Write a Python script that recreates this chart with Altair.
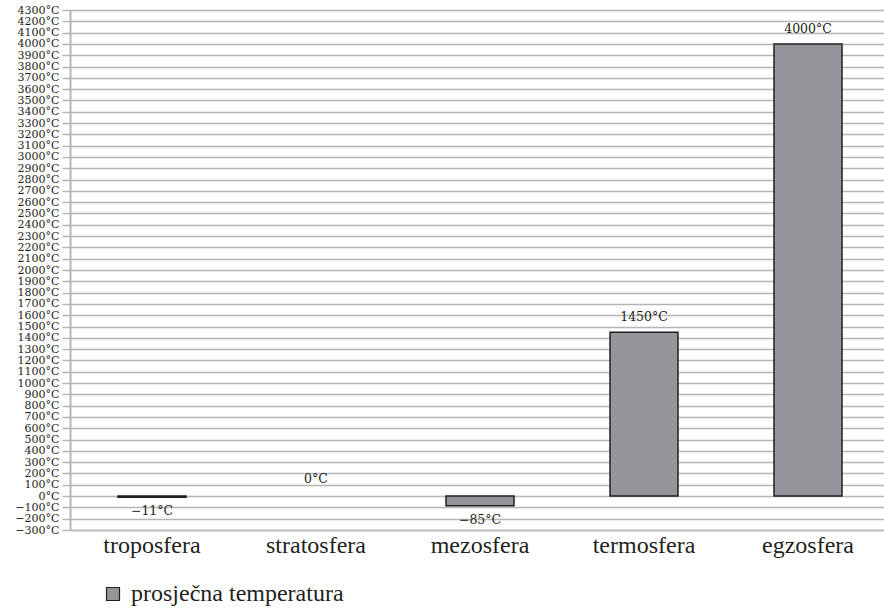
import altair as alt
import pandas as pd

# Average temperature of each atmospheric layer (°C)
layers = ["troposfera", "stratosfera", "mezosfera", "termosfera", "egzosfera"]
temps = [-11, 0, -85, 1450, 4000]
series_name = "prosječna temperatura"
y_ticks = list(range(-300, 4301, 100))

df = pd.DataFrame({"layer": layers, "temp": temps, "series": [series_name] * len(layers)})

INK = "#231f20"
GRID = "#b5b5b5"
SMALL_FONT = "DejaVu Serif"
BIG_FONT = "Liberation Serif"

x_scale = alt.Scale(range=[0, 820])
y_scale = alt.Scale(domain=[-300, 4300], nice=False, zero=False)

x_enc = alt.X(
    "layer:N",
    sort=layers,
    scale=x_scale,
    axis=alt.Axis(
        title=None,
        labelAngle=0,
        labelFont=BIG_FONT,
        labelFontSize=24,
        labelColor=INK,
        labelPadding=3,
        ticks=False,
        domainColor=GRID,
        domainWidth=1.5,
        grid=False,
    ),
)

y_enc = alt.Y(
    "temp:Q",
    scale=y_scale,
    axis=alt.Axis(
        title=None,
        values=y_ticks,
        tickCount=len(y_ticks),
        labelExpr="(datum.value < 0 ? '−' + abs(datum.value) : datum.value) + '°C'",
        labelFont=SMALL_FONT,
        labelFontSize=11,
        labelColor=INK,
        labelPadding=3,
        labelOverlap=False,
        tickSize=8,
        tickColor=GRID,
        tickWidth=1.5,
        domainColor=GRID,
        domainWidth=2,
        gridColor=GRID,
        gridWidth=1.5,
    ),
)

# A zero-height bar is not drawn at all
bars = alt.Chart(df).transform_filter("datum.temp != 0").mark_bar(
    size=68, stroke=INK, strokeWidth=1.5
).encode(
    x=x_enc,
    y=y_enc,
    y2=alt.datum(0),
    color=alt.Color(
        "series:N",
        scale=alt.Scale(range=["#939598"]),
        legend=alt.Legend(
            title=None,
            orient="none",
            legendX=31,
            legendY=572,
            symbolType="square",
            symbolSize=169,
            symbolStrokeColor=INK,
            symbolStrokeWidth=1.2,
            symbolOpacity=1,
            labelFont=BIG_FONT,
            labelFontSize=24,
            labelColor=INK,
            labelOffset=6,
            labelLimit=0,
            padding=0,
        ),
    ),
)

label_base = alt.Chart(df).transform_calculate(
    label="(datum.temp < 0 ? '−' + abs(datum.temp) : datum.temp) + '°C'"
)


def value_labels(condition, dy):
    return label_base.transform_filter(condition).mark_text(
        font=SMALL_FONT, fontSize=12.5, fill=INK, baseline="middle", dy=dy
    ).encode(
        x=alt.X("layer:N", sort=layers, scale=x_scale),
        y=alt.Y("temp:Q", scale=y_scale),
        text="label:N",
    )


chart = (
    alt.layer(
        bars,
        value_labels("datum.temp > 0", -15),
        value_labels("datum.temp == 0", -17),
        value_labels("datum.temp < 0", 14),
    )
    .properties(
        width=814,
        height=520,
        autosize=alt.AutoSizeParams(type="none"),
        padding={"left": 70, "top": 10, "right": 0, "bottom": 79},
    )
    .configure_view(stroke=None)
    .configure(background="white")
)

chart.save("out.html", embed_options={"renderer": "svg", "actions": False})
